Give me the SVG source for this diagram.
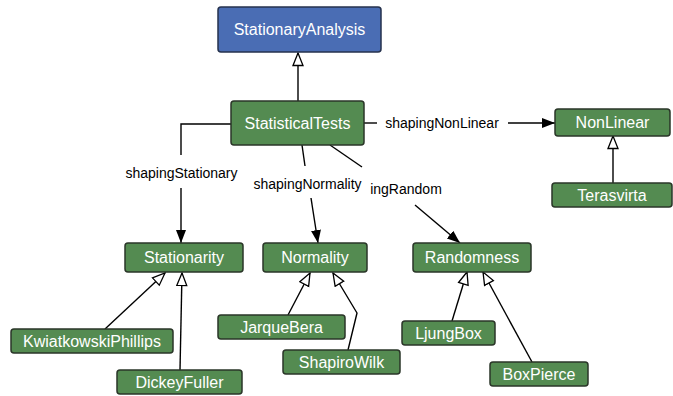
<svg xmlns="http://www.w3.org/2000/svg" width="673" height="396" viewBox="0 0 673 396">
<defs>
<marker id="filled" markerUnits="userSpaceOnUse" markerWidth="14" markerHeight="12" refX="13" refY="5" orient="auto">
<path d="M0,0 L13,5 L0,10 z" fill="#000"/>
</marker>
<marker id="hollow" markerUnits="userSpaceOnUse" markerWidth="16" markerHeight="14" refX="13.5" refY="6" orient="auto">
<path d="M1,1 L13.5,6 L1,11 z" fill="#fff" stroke="#000" stroke-width="1.3"/>
</marker>
</defs>
<style>
.box{fill:#548b51;stroke:#2a3628;stroke-width:1.5}
.blue{fill:#4a6db4;stroke:#26324d;stroke-width:1.5}
.t{font-family:"Liberation Sans",Arial,sans-serif;font-size:16px;fill:#fff;text-anchor:middle}
.lbl{font-family:"Liberation Sans",Arial,sans-serif;font-size:14px;fill:#000;text-anchor:middle}
.e{fill:none;stroke:#000;stroke-width:1.4}
.fe{marker-end:url(#filled)}
.he{marker-end:url(#hollow)}
</style>
<rect width="673" height="396" fill="#fff"/>
<g id="connectors">
<line class="e he" x1="298" y1="101" x2="298" y2="53"/>
<line class="e he" x1="613" y1="183" x2="613" y2="136"/>
<line class="e he" x1="105" y1="329" x2="165" y2="273"/>
<line class="e he" x1="180" y1="370" x2="182" y2="273"/>
<line class="e he" x1="288" y1="315" x2="310" y2="273"/>
<polyline class="e he" points="348,350 357,313 333,273"/>
<line class="e he" x1="452" y1="321" x2="467" y2="272"/>
<line class="e he" x1="532" y1="362" x2="483" y2="272"/>
<line class="e" x1="364" y1="123" x2="377" y2="123"/>
<line class="e fe" x1="508" y1="123" x2="555" y2="123"/>
<polyline class="e" points="231,124 181,124 181,155"/>
<line class="e fe" x1="181" y1="188" x2="181" y2="243"/>
<line class="e" x1="302" y1="145" x2="305" y2="166"/>
<line class="e fe" x1="311" y1="198" x2="318" y2="243"/>
<line class="e" x1="330" y1="145" x2="362" y2="167"/>
<line class="e fe" x1="415" y1="205" x2="460" y2="243"/>
<text class="lbl" x="442" y="128">shapingNonLinear</text>
<text class="lbl" x="181.5" y="178">shapingStationary</text>
<text class="lbl" x="307.5" y="189">shapingNormality</text>
<text class="lbl" x="406" y="194">ingRandom</text>
</g>
<g id="StationaryAnalysis"><rect class="blue" x="218" y="7" width="163" height="45" rx="3"/><text class="t" x="299.5" y="35">StationaryAnalysis</text></g>
<g id="StatisticalTests"><rect class="box" x="231" y="101" width="133" height="44" rx="3"/><text class="t" x="297.5" y="128.5">StatisticalTests</text></g>
<g id="NonLinear"><rect class="box" x="555" y="109" width="115" height="27" rx="3"/><text class="t" x="612.5" y="128">NonLinear</text></g>
<g id="Terasvirta"><rect class="box" x="552" y="183" width="120" height="24" rx="3"/><text class="t" x="612" y="200.5">Terasvirta</text></g>
<g id="Stationarity"><rect class="box" x="125" y="243" width="118" height="29" rx="3"/><text class="t" x="184" y="263">Stationarity</text></g>
<g id="Normality"><rect class="box" x="263" y="243" width="104" height="29" rx="3"/><text class="t" x="315" y="263">Normality</text></g>
<g id="Randomness"><rect class="box" x="413" y="243" width="118" height="29" rx="3"/><text class="t" x="472" y="263">Randomness</text></g>
<g id="KwiatkowskiPhillips"><rect class="box" x="11" y="329" width="162" height="24" rx="3"/><text class="t" x="92" y="346.5">KwiatkowskiPhillips</text></g>
<g id="DickeyFuller"><rect class="box" x="117" y="370" width="125" height="24" rx="3"/><text class="t" x="179.5" y="387.5">DickeyFuller</text></g>
<g id="JarqueBera"><rect class="box" x="218" y="315" width="127" height="24" rx="3"/><text class="t" x="281.5" y="332.5">JarqueBera</text></g>
<g id="ShapiroWilk"><rect class="box" x="283" y="350" width="117" height="24" rx="3"/><text class="t" x="341.5" y="367.5">ShapiroWilk</text></g>
<g id="LjungBox"><rect class="box" x="402" y="321" width="93" height="24" rx="3"/><text class="t" x="448.5" y="338.5">LjungBox</text></g>
<g id="BoxPierce"><rect class="box" x="490" y="362" width="98" height="24" rx="3"/><text class="t" x="539" y="379.5">BoxPierce</text></g>
</svg>
